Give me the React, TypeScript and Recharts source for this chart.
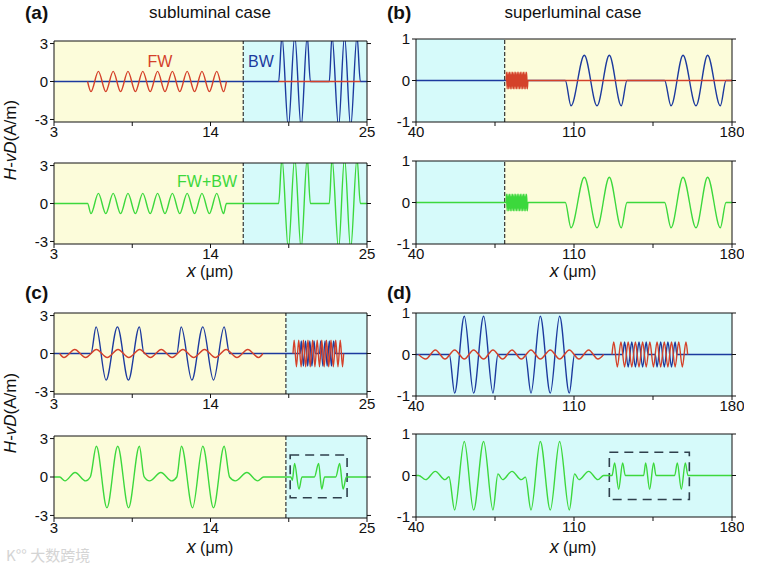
import React from 'react';
import { LineChart, Line, XAxis, YAxis, ReferenceArea, ReferenceLine } from 'recharts';

type P = [number, number];

const FONT = '"Liberation Sans", Arial, sans-serif';
const RED = '#d4412a';
const BLUE = '#1c3a9e';
const GREEN = '#3cd83c';
const YELLOW = '#fcfcda';
const CYAN = '#d6fafa';

// axes
const subTicks = [3, 8.5, 14, 19.5, 25];
const subLabels = ['3', '', '14', '', '25'];
const supTicks = [40, 75, 110, 145, 180];
const supLabels = ['40', '', '110', '', '180'];
const subY = [-3, 0, 3];
const supY = [-1, 0, 1];

// (a) subluminal, separated FW / BW
const aFW: P[] = [
  [5.36, 0], [5.6, -0.8], [6.12, 0.8], [6.64, -0.8], [7.16, 0.8], [7.68, -0.8], [8.2, 0.8],
  [8.72, -0.8], [9.24, 0.8], [9.76, -0.8], [10.28, 0.8], [10.8, -0.8], [11.32, 0.8],
  [11.84, -0.8], [12.36, 0.8], [12.88, -0.8], [13.4, 0.8], [13.92, -0.8], [14.44, 0.8],
  [14.92, -0.8], [15.12, 0],
];
const aFWtail: P[] = [[18.79, 0], [24.53, 0]];
const aBW: P[] = [
  [3, 0], [18.79, 0], [19.02, 3.6], [19.47, -3.6], [19.92, 3.6], [20.37, -3.6], [20.8, 3.6],
  [21.02, 0], [22.35, 0], [22.54, 3.6], [23.0, -3.6], [23.42, 3.6], [23.85, -3.6],
  [24.3, 3.6], [24.53, 0], [25, 0],
];
const aSum: P[] = [[3, 0], ...aFW, ...aBW.slice(1)];

// (b) superluminal, separated FW / BW
const bPacket: P[] = [
  [79.95, 0], [80.05, 0.2], [80.39, -0.2], [80.74, 0.2], [81.08, -0.2], [81.42, 0.2],
  [81.77, -0.2], [82.11, 0.2], [82.45, -0.2], [82.8, 0.2], [83.14, -0.2], [83.48, 0.2],
  [83.83, -0.2], [84.17, 0.2], [84.51, -0.2], [84.86, 0.2], [85.2, -0.2], [85.54, 0.2],
  [85.89, -0.2], [86.23, 0.2], [86.57, -0.2], [86.92, 0.2], [87.26, -0.2], [87.6, 0.2],
  [87.95, -0.2], [88.29, 0.2], [88.63, -0.2], [88.98, 0.2], [89.32, -0.2], [89.6, 0],
];
const bFW: P[] = [...bPacket, [180, 0]];
const bBW: P[] = [
  [40, 0], [106.15, 0], [108.67, -0.61], [114.57, 0.61], [120.19, -0.61], [125.65, 0.61],
  [130.96, -0.61], [133.48, 0], [150.15, 0], [152.97, -0.61], [158.3, 0.61],
  [164.05, -0.61], [169.2, 0.61], [174.83, -0.61], [177.35, 0], [180, 0],
];
const bSum: P[] = [[40, 0], ...bPacket, ...bBW.slice(1)];

// (c) subluminal, total field
const cFW: P[] = [
  [3.4, 0], [3.7, -0.32], [4.46, 0.32], [5.22, -0.32], [5.98, 0.32], [6.74, -0.32],
  [7.5, 0.32], [8.26, -0.32], [9.02, 0.32], [9.78, -0.32], [10.54, 0.32], [11.3, -0.32],
  [12.06, 0.32], [12.82, -0.32], [13.58, 0.32], [14.34, -0.32], [15.1, 0.32],
  [15.86, -0.32], [16.62, 0.32], [17.38, -0.32], [17.68, 0],
];
const cFWhf: P[] = [
  [19.8, 0], [19.88, 1.05], [20.04, -1.05], [20.2, 1.05], [20.37, -1.05], [20.53, 1.05],
  [20.69, -1.05], [20.85, 1.05], [21.01, -1.05], [21.18, 1.05], [21.34, -1.05],
  [21.5, 1.05], [21.66, -1.05], [21.82, 1.05], [21.99, -1.05], [22.15, 1.05],
  [22.31, -1.05], [22.47, 1.05], [22.63, -1.05], [22.8, 1.05], [22.96, -1.05],
  [23.12, 1.05], [23.28, -1.05], [23.36, 0],
];
const cBW: P[] = [
  [3, 0], [5.6, 0], [5.96, 2.1], [6.66, -2.1], [7.46, 2.1], [8.23, -2.1], [9.0, 2.1],
  [9.33, 0], [11.63, 0], [11.94, 2.1], [12.69, -2.1], [13.46, 2.1], [14.21, -2.1],
  [14.96, 2.1], [15.34, 0], [20.31, 0], [20.38, 1.0], [20.53, -1.0], [20.68, 1.0],
  [20.83, -1.0], [20.98, 1.0], [21.13, -1.0], [21.28, 1.0], [21.36, 0], [21.67, 0],
  [21.75, 1.0], [21.9, -1.0], [22.05, 1.0], [22.2, -1.0], [22.35, 1.0], [22.5, -1.0],
  [22.65, 1.0], [22.78, 0], [25, 0],
];
const cSum: P[] = [
  [3, 0], [3.4, 0], [3.77, -0.3], [4.48, 0.35], [5.23, -0.3], [5.55, 0], [5.98, 2.4],
  [6.72, -2.4], [7.48, 2.4], [8.24, -2.4], [9.0, 2.4], [9.33, 0.03], [9.72, -0.3],
  [10.51, 0.35], [11.28, -0.3], [11.63, 0], [11.96, 2.4], [12.74, -2.4], [13.46, 2.4],
  [14.21, -2.4], [14.96, 2.4], [15.34, 0], [15.74, -0.3], [16.56, 0.35], [17.31, -0.3],
  [17.73, 0], [19.65, 0], [19.75, -0.25], [19.91, 1.05], [20.22, -0.95], [20.43, 0],
  [21.3, 0], [21.6, 1.05], [21.82, -0.95], [22.02, 0], [22.8, 0], [23.08, 1.05],
  [23.32, -0.95], [23.55, 0], [25, 0],
];

// (d) superluminal, total field
const dFW: P[] = [
  [41.17, 0], [44.27, -0.11], [48.55, 0.11], [52.84, -0.11], [57.12, 0.11], [61.4, -0.11],
  [65.53, 0.11], [69.96, -0.11], [74.1, 0.11], [78.38, -0.11], [82.52, 0.11],
  [86.65, -0.11], [90.94, 0.11], [95.07, -0.11], [99.5, 0.11], [103.64, -0.11],
  [107.92, 0.11], [112.2, -0.11], [116.49, 0.11], [120.62, -0.11], [123.13, 0],
];
const dFWhf: P[] = [
  [126.84, 0], [127.6, 0.3], [129.2, -0.3], [130.8, 0.3], [132.4, -0.3], [134.0, 0.3],
  [135.6, -0.3], [137.2, 0.3], [138.8, -0.3], [140.4, 0.3], [142.0, -0.3], [143.6, 0.3],
  [145.2, -0.3], [146.8, 0.3], [148.4, -0.3], [150.0, 0.3], [151.6, -0.3], [153.2, 0.3],
  [154.8, -0.3], [156.4, 0.3], [158.0, -0.3], [159.6, 0.3], [160.35, 0],
];
const dBW: P[] = [
  [40, 0], [54.75, 0], [57.11, -0.93], [61.4, 0.92], [65.53, -0.93], [69.96, 0.92],
  [74.1, -0.93], [76.3, 0], [88.43, 0], [90.94, -0.93], [95.07, 0.92], [99.5, -0.93],
  [103.63, 0.92], [107.92, -0.93], [110.27, 0], [131.6, 0], [132.4, 0.3], [134.0, -0.3],
  [135.6, 0.3], [137.2, -0.3], [138.8, 0.3], [140.4, -0.3], [142.0, 0.3], [142.8, 0],
  [146.0, 0], [146.8, -0.3], [148.4, 0.3], [150.0, -0.3], [151.6, 0.3], [153.2, -0.3],
  [154.8, 0.3], [155.6, 0], [180, 0],
];
const dSum: P[] = [
  [40, 0], [41.17, 0], [44.27, -0.1], [48.55, 0.1], [52.84, -0.1], [54.6, -0.03],
  [57.11, -0.83], [61.4, 0.82], [65.53, -0.83], [69.96, 0.82], [74.1, -0.83], [76.3, 0.04],
  [78.38, -0.1], [82.52, 0.1], [86.65, -0.1], [88.5, -0.04], [90.94, -0.83], [95.07, 0.82],
  [99.5, -0.83], [103.63, 0.82], [107.92, -0.83], [110.27, 0.04], [112.2, -0.1],
  [116.49, 0.1], [120.62, -0.1], [123.13, 0], [126.83, 0], [128.0, 0.3], [129.78, -0.33],
  [131.55, 0.3], [132.73, 0], [140.86, 0], [141.74, 0.3], [143.5, -0.33], [145.28, 0.3],
  [146.32, 0], [154.6, 0], [155.77, 0.3], [157.55, -0.33], [159.32, 0.3], [160.5, 0],
  [180, 0],
];

const pts = (a: P[]) => a.map(([x, y]) => ({ x, y }));

type Band = { x1: number; x2: number; fill: string };
type Series = { data: P[]; color: string };

function Panel(props: {
  left: number; top: number; w: number; h: number;
  xDom: [number, number]; xTicks: number[]; xLabels: string[];
  yDom: [number, number]; yTicks: number[];
  bands: Band[]; divider?: number; box?: [number, number, number, number];
  lines: Series[];
}) {
  const { left, top, w, h, xDom, xTicks, xLabels, yDom, yTicks, bands, divider, box, lines } = props;
  const YW = 50, TH = 8, BH = 22, RW = 12;
  const lab: Record<string, string> = {};
  xTicks.forEach((t, i) => { lab[String(t)] = xLabels[i]; });
  const tick = { fontSize: 15, fill: '#111', fontFamily: FONT };
  return (
    <div style={{ position: 'absolute', left: left - YW, top: top - TH }}>
      <LineChart width={YW + w + RW} height={TH + h + BH} margin={{ top: 0, right: 0, bottom: 0, left: 0 }}>
        <XAxis type="number" dataKey="x" domain={xDom} ticks={xTicks} interval={0} allowDataOverflow
          height={BH} tickSize={4} tickMargin={0} tick={tick} stroke="#111"
          tickFormatter={(v: number) => lab[String(v)] ?? ''} />
        <XAxis xAxisId="top" orientation="top" type="number" domain={xDom} ticks={xTicks} interval={0}
          allowDataOverflow height={TH} tickSize={4} tickFormatter={() => ''} stroke="#111" />
        <YAxis type="number" domain={yDom} ticks={yTicks} interval={0} allowDataOverflow width={YW}
          tickSize={4} tickMargin={2} tick={tick} stroke="#111" />
        <YAxis yAxisId="r" orientation="right" type="number" domain={yDom} ticks={yTicks} interval={0}
          allowDataOverflow width={RW} tickSize={4} tickFormatter={() => ''} stroke="#111" />
        {bands.map((b, i) => (
          <ReferenceArea key={'b' + i} x1={b.x1} x2={b.x2} fill={b.fill} fillOpacity={1} stroke="none" ifOverflow="hidden" />
        ))}
        {divider !== undefined && (
          <ReferenceLine x={divider} stroke="#222" strokeWidth={1.1} strokeDasharray="4 2" />
        )}
        {box && (
          <ReferenceArea x1={box[0]} x2={box[1]} y1={box[2]} y2={box[3]} fill="none" fillOpacity={0}
            stroke="#2f3f4c" strokeWidth={1.6} strokeDasharray="9 6" />
        )}
        {lines.map((s, i) => (
          <Line key={'l' + i} data={pts(s.data)} dataKey="y" type="monotone" stroke={s.color}
            strokeWidth={1.4} dot={false} activeDot={false} isAnimationActive={false} />
        ))}
      </LineChart>
    </div>
  );
}

const LX = 54, LW = 313, RX = 416, RWd = 316;

function XLabel({ x, y }: { x: number; y: number }) {
  return (
    <text x={x} y={y} fontSize={16} textAnchor="middle">
      <tspan fontStyle="italic" fontSize={18}>x</tspan> (μm)
    </text>
  );
}

export default function App() {
  const subDom: [number, number] = [3, 25];
  const supDom: [number, number] = [40, 180];
  const sy: [number, number] = [-3.2, 3.2];
  const py: [number, number] = [-1, 1];
  return (
    <div style={{ position: 'absolute', left: 0, top: 0, width: 776, height: 570, background: '#fff', fontFamily: FONT }}>
      <svg width={776} height={570} style={{ position: 'absolute', left: 0, top: 0 }}>
        <g fontFamily={FONT} fill="#111">
          <text x={25} y={19} fontSize={19} fontWeight="bold">(a)</text>
          <text x={210} y={18} fontSize={17} textAnchor="middle">subluminal case</text>
          <text x={387} y={19} fontSize={19} fontWeight="bold">(b)</text>
          <text x={573} y={18} fontSize={17} textAnchor="middle">superluminal case</text>
          <text x={25} y={299} fontSize={19} fontWeight="bold">(c)</text>
          <text x={387} y={299} fontSize={19} fontWeight="bold">(d)</text>
          <text transform="translate(16,140) rotate(-90)" fontSize={17} textAnchor="middle">
            <tspan fontStyle="italic">H</tspan>-<tspan fontStyle="italic">vD</tspan>(A/m)
          </text>
          <text transform="translate(16,413) rotate(-90)" fontSize={17} textAnchor="middle">
            <tspan fontStyle="italic">H</tspan>-<tspan fontStyle="italic">vD</tspan>(A/m)
          </text>
          <XLabel x={210} y={277} />
          <XLabel x={573} y={277} />
          <XLabel x={210} y={553} />
          <XLabel x={573} y={553} />
          <text x={6} y={561} fontSize={15} fill="#d4d4d4" fontFamily='"Noto Sans CJK SC", sans-serif'>K°° 大数跨境</text>
        </g>
      </svg>

      <Panel left={LX} top={41} w={LW} h={81} xDom={subDom} xTicks={subTicks} xLabels={subLabels} yDom={sy} yTicks={subY}
        bands={[{ x1: 3, x2: 16.3, fill: YELLOW }, { x1: 16.3, x2: 25, fill: CYAN }]} divider={16.3}
        lines={[{ data: aBW, color: BLUE }, { data: aFW, color: RED }, { data: aFWtail, color: RED }]} />
      <Panel left={LX} top={163} w={LW} h={81} xDom={subDom} xTicks={subTicks} xLabels={subLabels} yDom={sy} yTicks={subY}
        bands={[{ x1: 3, x2: 16.3, fill: YELLOW }, { x1: 16.3, x2: 25, fill: CYAN }]} divider={16.3}
        lines={[{ data: aSum, color: GREEN }]} />
      <Panel left={RX} top={39} w={RWd} h={83} xDom={supDom} xTicks={supTicks} xLabels={supLabels} yDom={py} yTicks={supY}
        bands={[{ x1: 40, x2: 79.3, fill: CYAN }, { x1: 79.3, x2: 180, fill: YELLOW }]} divider={79.3}
        lines={[{ data: bBW, color: BLUE }, { data: bFW, color: RED }]} />
      <Panel left={RX} top={161} w={RWd} h={83} xDom={supDom} xTicks={supTicks} xLabels={supLabels} yDom={py} yTicks={supY}
        bands={[{ x1: 40, x2: 79.3, fill: CYAN }, { x1: 79.3, x2: 180, fill: YELLOW }]} divider={79.3}
        lines={[{ data: bSum, color: GREEN }]} />

      <Panel left={LX} top={313} w={LW} h={81} xDom={subDom} xTicks={subTicks} xLabels={subLabels} yDom={sy} yTicks={subY}
        bands={[{ x1: 3, x2: 19.3, fill: YELLOW }, { x1: 19.3, x2: 25, fill: CYAN }]} divider={19.3}
        lines={[{ data: cBW, color: BLUE }, { data: cFW, color: RED }, { data: cFWhf, color: RED }]} />
      <Panel left={LX} top={436} w={LW} h={82} xDom={subDom} xTicks={subTicks} xLabels={subLabels} yDom={sy} yTicks={subY}
        bands={[{ x1: 3, x2: 19.3, fill: YELLOW }, { x1: 19.3, x2: 25, fill: CYAN }]} divider={19.3}
        box={[19.6, 23.6, -1.62, 1.72]}
        lines={[{ data: cSum, color: GREEN }]} />
      <Panel left={RX} top={313} w={RWd} h={83} xDom={supDom} xTicks={supTicks} xLabels={supLabels} yDom={py} yTicks={supY}
        bands={[{ x1: 40, x2: 180, fill: CYAN }]}
        lines={[{ data: dBW, color: BLUE }, { data: dFW, color: RED }, { data: dFWhf, color: RED }]} />
      <Panel left={RX} top={434} w={RWd} h={83} xDom={supDom} xTicks={supTicks} xLabels={supLabels} yDom={py} yTicks={supY}
        bands={[{ x1: 40, x2: 180, fill: CYAN }]}
        box={[125.65, 161.1, -0.58, 0.56]}
        lines={[{ data: dSum, color: GREEN }]} />

      <svg width={776} height={570} style={{ position: 'absolute', left: 0, top: 0, pointerEvents: 'none' }}>
        <g fontFamily={FONT} fontSize={16}>
          <text x={160} y={67} fill={RED} textAnchor="middle">FW</text>
          <text x={261} y={67} fill={BLUE} textAnchor="middle">BW</text>
          <text x={207} y={187} fill={GREEN} textAnchor="middle">FW+BW</text>
        </g>
      </svg>
    </div>
  );
}
